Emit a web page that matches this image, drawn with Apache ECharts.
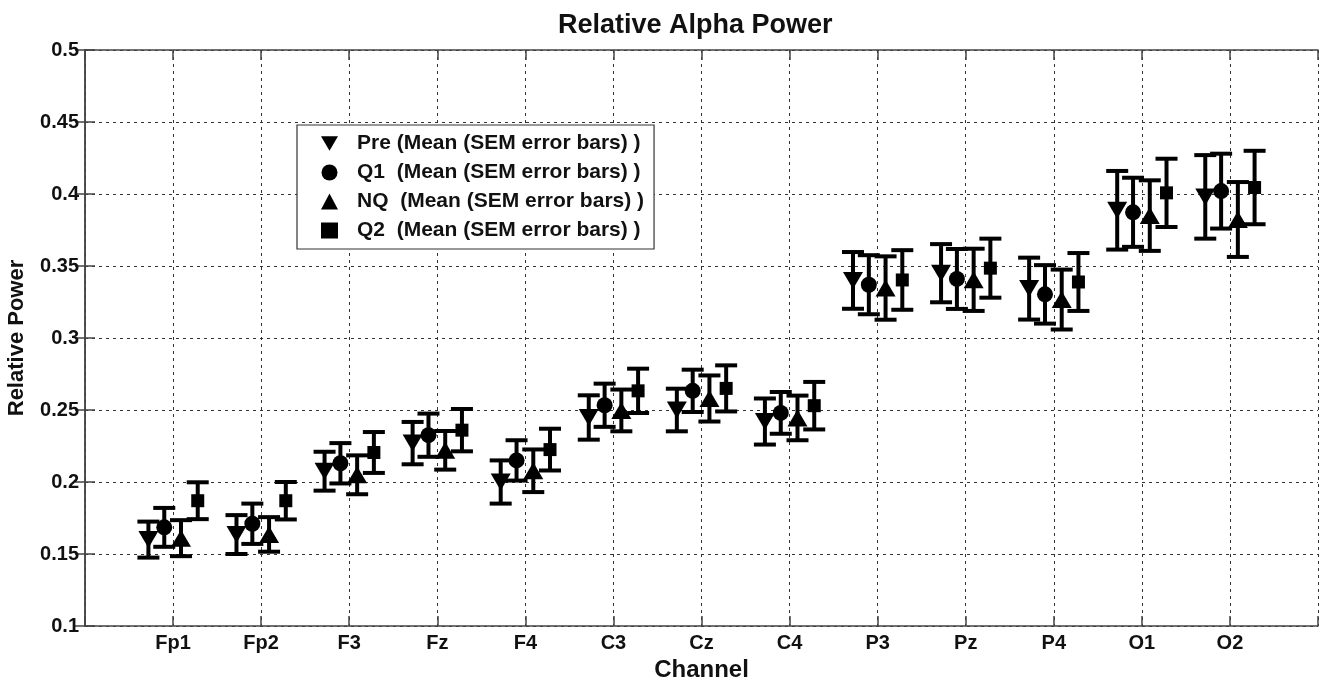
<!DOCTYPE html>
<html>
<head>
<meta charset="utf-8">
<title>Relative Alpha Power</title>
<script src="https://cdn.jsdelivr.net/npm/echarts@6/dist/echarts.min.js"></script>
<style>
    html, body { margin: 0; padding: 0; background: #fff; }
    #chart { width: 1325px; height: 682px; }
</style>
</head>
<body>
<div id="chart"></div>
<script>
// channels on the x axis
const channels = ['Fp1', 'Fp2', 'F3', 'Fz', 'F4', 'C3', 'Cz', 'C4', 'P3', 'Pz', 'P4', 'O1', 'O2'];

// mean and SEM for each condition
const preMean = [0.160, 0.1635, 0.2075, 0.227, 0.200, 0.2448, 0.250, 0.242, 0.340, 0.345, 0.3343, 0.3887, 0.398];
const preSem  = [0.0125, 0.0135, 0.0135, 0.0147, 0.015, 0.0154, 0.0148, 0.016, 0.0197, 0.0202, 0.0215, 0.0273, 0.029];
const q1Mean  = [0.1685, 0.171, 0.213, 0.2325, 0.215, 0.2533, 0.2633, 0.248, 0.337, 0.341, 0.3303, 0.3873, 0.402];
const q1Sem   = [0.0135, 0.014, 0.014, 0.015, 0.014, 0.015, 0.0147, 0.0145, 0.0205, 0.0208, 0.0203, 0.024, 0.026];
const nqMean  = [0.161, 0.1636, 0.205, 0.222, 0.2078, 0.2497, 0.258, 0.2445, 0.3347, 0.3404, 0.3267, 0.385, 0.3823];
const nqSem   = [0.0125, 0.012, 0.0135, 0.0134, 0.0148, 0.0145, 0.016, 0.0155, 0.022, 0.0216, 0.0208, 0.0245, 0.026];
const q2Mean  = [0.187, 0.187, 0.2205, 0.236, 0.2225, 0.2633, 0.265, 0.253, 0.3403, 0.3485, 0.3389, 0.4008, 0.4045];
const q2Sem   = [0.0128, 0.013, 0.0142, 0.0147, 0.0145, 0.0154, 0.016, 0.0165, 0.0207, 0.0205, 0.0201, 0.0237, 0.0255];

// y axis ticks
const yTicks = ['0.1', '0.15', '0.2', '0.25', '0.3', '0.35', '0.4', '0.45', '0.5'];

const FONT = 'Liberation Sans, Arial, sans-serif';
const triDown = 'path://M0,0L20,0L10,17Z';

/* marker points, shifted a little left/right of the channel */
const points = function (mean, shift) {
    return mean.map(function (v, i) { return [i + 1 + shift, v]; });
};

/* error bar rows: [x, low, high] */
const bars = function (mean, sem, shift) {
    return mean.map(function (v, i) { return [i + 1 + shift, v - sem[i], v + sem[i]]; });
};

/* draw one error bar with caps */
const renderBar = function (params, api) {
    let x = api.value(0);
    let top = api.coord([x, api.value(2)]);
    let bot = api.coord([x, api.value(1)]);
    let w = 11;
    let st = { stroke: '#000', lineWidth: 4 };
    return {
        type: 'group',
        children: [
            { type: 'line', shape: { x1: top[0], y1: top[1], x2: bot[0], y2: bot[1] }, style: st },
            { type: 'line', shape: { x1: top[0] - w, y1: top[1], x2: top[0] + w, y2: top[1] }, style: st },
            { type: 'line', shape: { x1: bot[0] - w, y1: bot[1], x2: bot[0] + w, y2: bot[1] }, style: st }
        ]
    };
};

const groups = [
    { name: 'Pre (Mean (SEM error bars) )', mean: preMean, sem: preSem, shift: -0.28, symbol: triDown, size: [20, 17] },
    { name: 'Q1  (Mean (SEM error bars) )', mean: q1Mean, sem: q1Sem, shift: -0.10, symbol: 'circle', size: 16 },
    { name: 'NQ  (Mean (SEM error bars) )', mean: nqMean, sem: nqSem, shift: 0.09, symbol: 'triangle', size: [20, 17] },
    { name: 'Q2  (Mean (SEM error bars) )', mean: q2Mean, sem: q2Sem, shift: 0.28, symbol: 'rect', size: 13 }
];

const drawChart = function () {
    let myChart = echarts.init(document.getElementById('chart'));

    let series = [];
    groups.forEach(function (g) {
        series.push({
            name: g.name + ' bars',
            type: 'custom',
            renderItem: renderBar,
            encode: { x: 0, y: [1, 2] },
            data: bars(g.mean, g.sem, g.shift),
            z: 3,
            silent: true
        });
        series.push({
            name: g.name,
            type: 'scatter',
            symbol: g.symbol,
            symbolSize: g.size,
            itemStyle: { color: '#000', opacity: 1 },
            data: points(g.mean, g.shift),
            z: 4
        });
    });

    const gridLine = function () {
        return { show: true, lineStyle: { color: '#333', type: [3, 4], width: 1 } };
    };
    const axisLine = function () {
        return { show: true, lineStyle: { color: '#444', width: 1.5 } };
    };
    const tick = function () {
        return { show: true, inside: true, length: 10, lineStyle: { color: '#444', width: 1.5 } };
    };

    let option = {
        backgroundColor: '#fff',
        animation: false,
        title: {
            text: 'Relative Alpha Power',
            left: 553,
            top: 7,
            textStyle: { fontFamily: FONT, fontSize: 27, fontWeight: 'bold', color: '#111' }
        },
        legend: {
            orient: 'vertical',
            left: 297,
            top: 125,
            data: groups.map(function (g) { return g.name; }),
            itemWidth: 17,
            itemHeight: 16,
            itemGap: 8,
            padding: [8, 10, 8, 24],
            borderColor: '#333',
            borderWidth: 1.2,
            backgroundColor: '#fff',
            selectedMode: false,
            itemStyle: { color: '#000' },
            textStyle: { fontFamily: FONT, fontSize: 21, fontWeight: 'bold', color: '#111', padding: [0, 0, 0, 14] }
        },
        grid: { left: 85, right: 7, top: 50, bottom: 56, outerBoundsMode: 'none' },
        xAxis: [{
            type: 'value',
            min: 0,
            max: 14,
            interval: 1,
            name: 'Channel',
            nameLocation: 'middle',
            nameGap: 25,
            nameTextStyle: { fontFamily: FONT, fontSize: 24, fontWeight: 'bold', color: '#111' },
            axisLine: axisLine(),
            axisTick: tick(),
            splitLine: gridLine(),
            axisLabel: {
                margin: 7,
                fontFamily: FONT, fontSize: 20, fontWeight: 'bold', color: '#111',
                formatter: function (v) { return channels[v - 1] || ''; }
            }
        }, {
            type: 'value',
            position: 'top',
            min: 0,
            max: 14,
            interval: 1,
            axisLine: axisLine(),
            axisTick: tick(),
            axisLabel: { show: false },
            splitLine: { show: false }
        }],
        yAxis: [{
            type: 'value',
            position: 'left',
            min: 0.1,
            max: 0.5,
            interval: 0.05,
            name: 'Relative Power',
            nameLocation: 'middle',
            nameRotate: 90,
            nameGap: 57,
            nameTextStyle: { fontFamily: FONT, fontSize: 22, fontWeight: 'bold', color: '#111' },
            axisLine: axisLine(),
            axisTick: tick(),
            splitLine: gridLine(),
            axisLabel: {
                margin: 6,
                fontFamily: FONT, fontSize: 20, fontWeight: 'bold', color: '#111',
                formatter: function (v) { return yTicks[Math.round((v - 0.1) / 0.05)]; }
            }
        }, {
            type: 'value',
            position: 'right',
            min: 0.1,
            max: 0.5,
            interval: 0.05,
            axisLine: axisLine(),
            axisTick: tick(),
            axisLabel: { show: false },
            splitLine: { show: false }
        }],
        series: series
    };

    myChart.setOption(option);
};

drawChart();
</script>
</body>
</html>
